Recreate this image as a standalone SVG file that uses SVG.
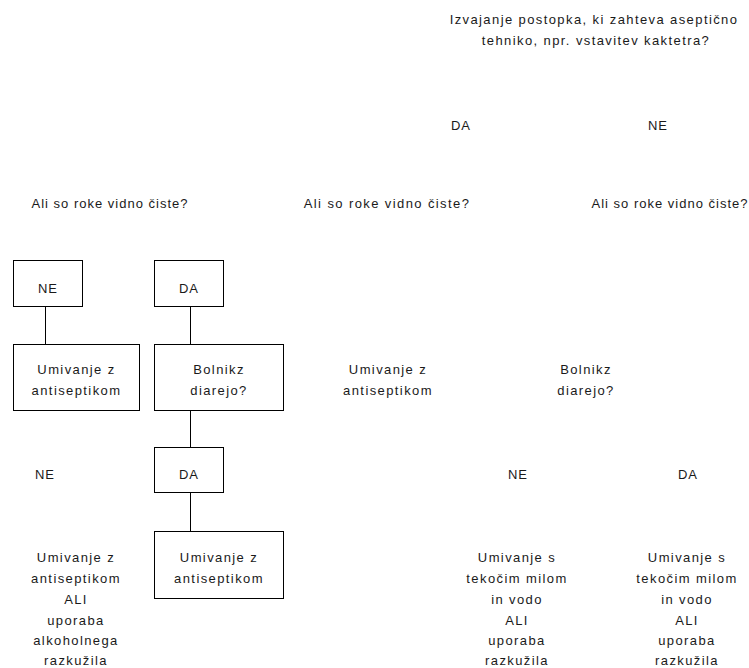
<svg xmlns="http://www.w3.org/2000/svg" width="749" height="668" viewBox="0 0 749 668">
<style>
text{font-family:"Liberation Sans",Arial,sans-serif;font-size:13px;fill:#1a1a1a;letter-spacing:1px;text-anchor:middle}
.w{letter-spacing:1.4px}
.box{fill:#fff;stroke:#000;stroke-width:1}
.ln{stroke:#000;stroke-width:1;fill:none}
</style>
<rect width="749" height="668" fill="#fff"/>
<g id="connectors">
<line class="ln" x1="45.5" y1="306" x2="45.5" y2="344"/>
<line class="ln" x1="190.5" y1="306" x2="190.5" y2="344"/>
<line class="ln" x1="190.5" y1="410" x2="190.5" y2="447"/>
<line class="ln" x1="190.5" y1="492" x2="190.5" y2="531"/>
</g>
<g id="q-aseptic">
<text x="594" y="24" class="w">Izvajanje postopka, ki zahteva aseptično</text>
<text x="596" y="45" class="w">tehniko, npr. vstavitev kaktetra?</text>
</g>
<g id="lbl-da-top"><text x="461" y="129.5">DA</text></g>
<g id="lbl-ne-top"><text x="658" y="129.5">NE</text></g>
<g id="q-clean-1"><text x="110" y="208">Ali so roke vidno čiste?</text></g>
<g id="q-clean-2"><text x="387" y="208" class="w">Ali so roke vidno čiste?</text></g>
<g id="q-clean-3"><text x="670" y="208">Ali so roke vidno čiste?</text></g>
<g id="box-ne">
<rect class="box" x="13.5" y="260.5" width="69" height="46"/>
<text x="48" y="292.5">NE</text>
</g>
<g id="box-da">
<rect class="box" x="154.5" y="260.5" width="69" height="46"/>
<text x="189" y="292.5">DA</text>
</g>
<g id="box-antiseptic-1">
<rect class="box" x="13.5" y="344.5" width="126" height="66"/>
<text x="76.5" y="374" class="w">Umivanje z</text>
<text x="76.5" y="394.5" class="w">antiseptikom</text>
</g>
<g id="box-diarrhea-1">
<rect class="box" x="154.5" y="344.5" width="129" height="66"/>
<text x="219" y="374" class="w">Bolnikz</text>
<text x="219" y="394.5" class="w">diarejo?</text>
</g>
<g id="antiseptic-2">
<text x="388" y="374" class="w">Umivanje z</text>
<text x="388" y="394.5" class="w">antiseptikom</text>
</g>
<g id="diarrhea-2">
<text x="586" y="374" class="w">Bolnikz</text>
<text x="586" y="394.5" class="w">diarejo?</text>
</g>
<g id="lbl-ne-left"><text x="45" y="479">NE</text></g>
<g id="box-da-2">
<rect class="box" x="154.5" y="447.5" width="69" height="45"/>
<text x="189" y="479">DA</text>
</g>
<g id="lbl-ne-right"><text x="518" y="479">NE</text></g>
<g id="lbl-da-right"><text x="688" y="479">DA</text></g>
<g id="res-left" class="w">
<text x="76" y="562" class="w">Umivanje z</text>
<text x="76" y="583" class="w">antiseptikom</text>
<text x="76" y="604" class="w">ALI</text>
<text x="76" y="624.5" class="w">uporaba</text>
<text x="76" y="645" class="w">alkoholnega</text>
<text x="76" y="665" class="w">razkužila</text>
</g>
<g id="box-antiseptic-3">
<rect class="box" x="154.5" y="531.5" width="129" height="67"/>
<text x="219" y="562" class="w">Umivanje z</text>
<text x="219" y="582.5" class="w">antiseptikom</text>
</g>
<g id="res-right-1">
<text x="517" y="562" class="w">Umivanje s</text>
<text x="517" y="583" class="w">tekočim  milom</text>
<text x="517" y="604" class="w">in vodo</text>
<text x="517" y="624.5" class="w">ALI</text>
<text x="517" y="645" class="w">uporaba</text>
<text x="517" y="665" class="w">razkužila</text>
</g>
<g id="res-right-2">
<text x="687" y="562" class="w">Umivanje s</text>
<text x="687" y="583" class="w">tekočim  milom</text>
<text x="687" y="604" class="w">in vodo</text>
<text x="687" y="624.5" class="w">ALI</text>
<text x="687" y="645" class="w">uporaba</text>
<text x="687" y="665" class="w">razkužila</text>
</g>
</svg>
